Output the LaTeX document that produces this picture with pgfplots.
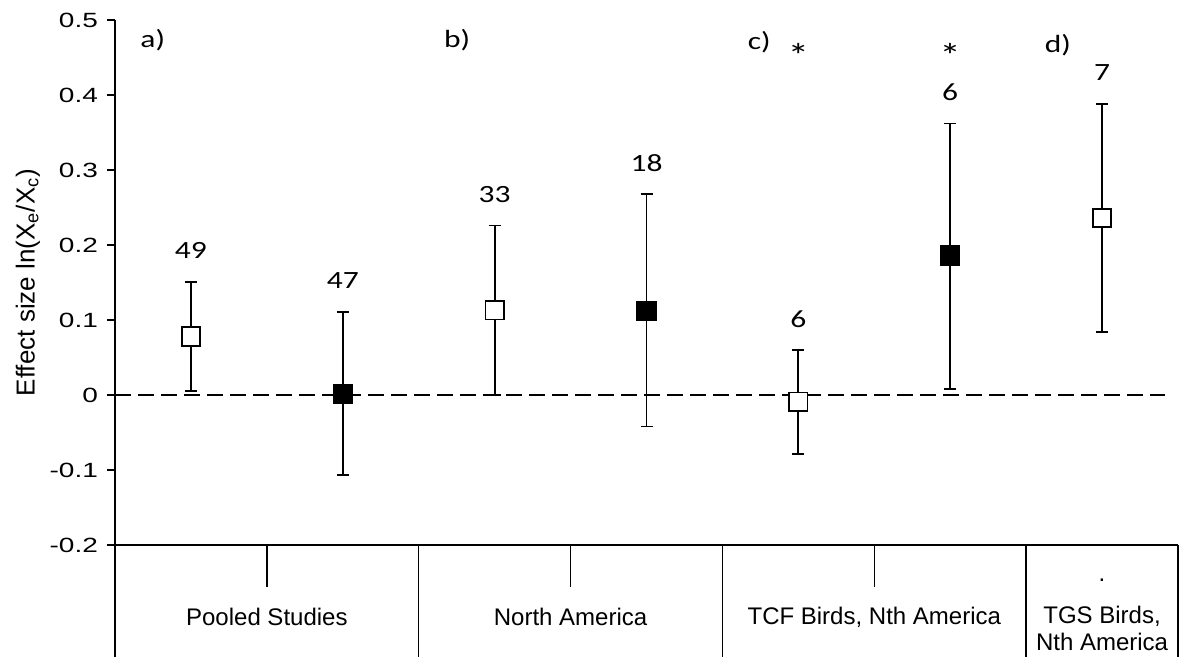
\documentclass[border=0pt]{standalone}
\usepackage{graphicx}
\usepackage{fontspec}
\setmainfont{Liberation Sans}
\newfontfamily\calfont{Carlito}
\usepackage{pgfplots}
\pgfplotsset{compat=1.18}
\usepackage{pgfplotstable}

% wide-set text used for tick numbers and annotations
\newcommand\wide[1]{\scalebox{1.27}[1]{#1}}
\newcommand\widetick[1]{\scalebox{1.36}[1]{#1}}
\newcommand\annfont{\calfont\fontsize{12.4}{14}\selectfont}

% effect sizes: position, mean, upper and lower CI half-widths, sample size
\pgfplotstableread{
x   y      ep     em     n
0.5 0.078  0.073  0.073  49
2.5 0.113  0.113  0.113  33
4.5 -0.009 0.069  0.070  6
6.5 0.236  0.152  0.152  7
}\openpts

\pgfplotstableread{
x   y      ep     em     n
1.5 0.001  0.110  0.108  47
3.5 0.112  0.156  0.154  18
5.5 0.186  0.176  0.178  6
}\filledpts

\begin{document}
\begin{tikzpicture}
\begin{axis}[
  name=ax, at={(0,0)}, anchor=south west,
  scale only axis, width=531.5pt, height=262.5pt,
  xmin=0, xmax=7, ymin=-0.2, ymax=0.5,
  axis x line=bottom, axis y line=left,
  axis line style={-, line width=0.9pt},
  xtick=\empty,
  ytick={-0.2,-0.1,0,0.1,0.2,0.3,0.4,0.5},
  yticklabels={\widetick{-0.2},\widetick{-0.1},\widetick{0},\widetick{0.1},
    \widetick{0.2},\widetick{0.3},\widetick{0.4},\widetick{0.5}},
  tick align=outside, major tick length=4pt,
  tick style={line width=0.9pt, black},
  yticklabel style={font=\fontsize{10.3}{12}\selectfont, xshift=-1pt},
  ylabel={Effect size ln(X\textsubscript{e}/X\textsubscript{c})},
  every axis y label/.style={at={(axis description cs:-0.0755,0.5)}, rotate=90,
    anchor=base, font=\fontsize{13}{15}\selectfont},
  clip=false,
]
% reference line at zero
\addplot[black, line width=0.9pt, dash pattern=on 8pt off 3.5pt] coordinates {(0,0) (6.914,0)};

% open squares
\addplot[black, line width=0.9pt, only marks, mark=square*, mark size=4.6pt,
  mark options={fill=white, line width=0.9pt},
  error bars/.cd, y dir=both, y explicit,
  error bar style={line width=0.9pt},
  error mark options={rotate=90, mark size=3pt, line width=0.9pt}]
  table[x=x, y=y, y error plus=ep, y error minus=em] {\openpts};

% filled squares
\addplot[black, line width=0.9pt, only marks, mark=square*, mark size=4.6pt,
  mark options={fill=black, line width=0.9pt},
  error bars/.cd, y dir=both, y explicit,
  error bar style={line width=0.9pt},
  error mark options={rotate=90, mark size=3pt, line width=0.9pt}]
  table[x=x, y=y, y error plus=ep, y error minus=em] {\filledpts};

% sample sizes above the upper CI limits
\addplot[only marks, mark=text, text mark={},
  nodes near coords={\wide{\pgfplotspointmeta}}, point meta=explicit symbolic,
  every node near coord/.append style={anchor=center, yshift=15.5pt, font=\annfont}]
  table[x=x, y expr=\thisrow{y}+\thisrow{ep}, meta=n] {\openpts};
\addplot[only marks, mark=text, text mark={},
  nodes near coords={\wide{\pgfplotspointmeta}}, point meta=explicit symbolic,
  every node near coord/.append style={anchor=center, yshift=15.5pt, font=\annfont}]
  table[x=x, y expr=\thisrow{y}+\thisrow{ep}, meta=n] {\filledpts};

% panel letters and significance marks
\begin{scope}[every node/.style={font=\annfont, inner sep=0pt}]
  \node[anchor=west] at (axis cs:0.165,0.473) {\wide{a)}};
  \node[anchor=west] at (axis cs:2.165,0.473) {\wide{b)}};
  \node[anchor=west] at (axis cs:4.165,0.471) {\wide{c)}};
  \node[anchor=west] at (axis cs:6.12,0.466) {\wide{d)}};
  \node[anchor=base, font=\calfont\fontsize{17}{19}\selectfont] at (axis cs:4.5,0.437) {\wide{*}};
  \node[anchor=base, font=\calfont\fontsize{17}{19}\selectfont] at (axis cs:5.5,0.437) {\wide{*}};
\end{scope}

% grouped category axis below the plot
\draw[line width=0.9pt] (axis cs:0,-0.2) -- (axis cs:0,-0.35);
\draw[line width=0.9pt] (axis cs:0,-0.2) -- (axis cs:7,-0.2);
\draw[line width=0.7pt] (axis cs:2,-0.2) -- (axis cs:2,-0.35);
\draw[line width=0.7pt] (axis cs:4,-0.2) -- (axis cs:4,-0.35);
\draw[line width=0.7pt] (axis cs:6,-0.2) -- (axis cs:6,-0.35);
\draw[line width=0.7pt] (axis cs:7,-0.2) -- (axis cs:7,-0.35);
\draw[line width=0.7pt] (axis cs:1,-0.2) -- (axis cs:1,-0.256);
\draw[line width=0.7pt] (axis cs:3,-0.2) -- (axis cs:3,-0.256);
\draw[line width=0.7pt] (axis cs:5,-0.2) -- (axis cs:5,-0.256);
\begin{scope}[every node/.style={font=\fontsize{12}{13.5}\selectfont}]
  \node at (axis cs:1,-0.296) {Pooled Studies};
  \node at (axis cs:3,-0.296) {North America};
  \node at (axis cs:5,-0.296) {TCF Birds, Nth America};
  \node[align=center] at (axis cs:6.5,-0.311) {TGS Birds,\\Nth America};
  \node at (axis cs:6.5,-0.247) {.};
\end{scope}
\end{axis}
\pgfresetboundingbox
\path[use as bounding box] (ax.south west) ++(-57.5pt,-56pt) rectangle ++(590.5pt,328.5pt);
\end{tikzpicture}
\end{document}
